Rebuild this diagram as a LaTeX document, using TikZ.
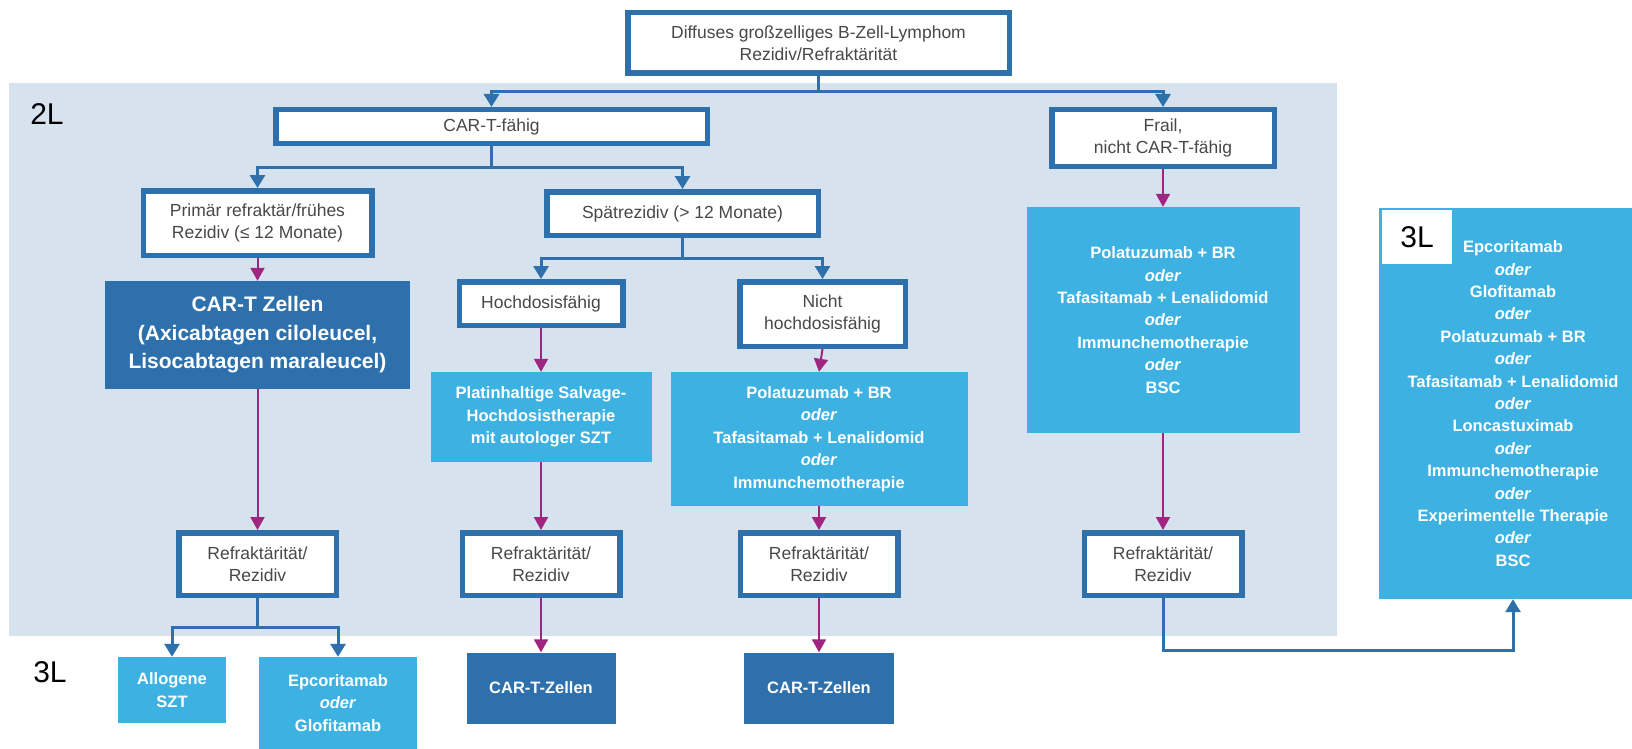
\documentclass[tikz,border=0pt]{standalone}
\usepackage{fontspec}
\setmainfont{Liberation Sans}
\usepackage{tikz}
\usetikzlibrary{arrows.meta,positioning}
\usepackage{xcolor}
\definecolor{lymblue}{RGB}{46,112,171}
\definecolor{lymlight}{RGB}{61,178,226}
\definecolor{lymbg}{RGB}{214,226,237}
\definecolor{lymmag}{RGB}{158,37,128}
\definecolor{lymgray}{RGB}{72,72,72}
\newcommand{\oder}{\textit{oder}}

\begin{document}
\begin{tikzpicture}[
    x=1pt, y=-1pt,
    frame/.style={draw=lymblue, line width=5.5pt, fill=white, text=lymgray, align=center, inner sep=0pt,
        font=\fontsize{17.5}{22.5}\selectfont},
    ther/.style={fill=#1, text=white, align=center, inner sep=0pt,
        font=\bfseries\fontsize{16.5}{22.4}\selectfont},
    big/.style={font=\fontsize{30}{32}\selectfont},
    barr/.style={draw=lymblue, line width=3pt, -{Triangle[length=13pt, width=15pt]}},
    bline/.style={draw=lymblue, line width=3pt},
    marr/.style={draw=lymmag, line width=2pt, -{Triangle[length=13pt, width=14pt]}}
]
\useasboundingbox (0,0) rectangle (1632,749);
\clip (0,0) rectangle (1632,749);

% 2L area
\fill[lymbg] (9,83) rectangle (1337,636);
\node[big] (l2) at (47,114) {2L};
\node[big] (l3) at (50,672) {3L};

% Start
\node[frame, minimum width=381.5pt, minimum height=60.5pt] (top) at (818.5,43) {Diffuses großzelliges B-Zell-Lymphom\\Rezidiv/Refraktärität};

% Level 1
\node[frame, minimum width=431.5pt, minimum height=33.5pt] (cart) at (491.5,126.5) {CAR-T-fähig};
\node[frame, minimum width=222.5pt, minimum height=56.5pt] (frail) at (1163,138) {Frail,\\nicht CAR-T-fähig};

% Level 2
\node[frame, minimum width=228.5pt, minimum height=64.5pt] (prim) at (257.5,223) {Primär refraktär/frühes\\Rezidiv (≤ 12 Monate)};
\node[frame, minimum width=271.5pt, minimum height=43.5pt] (spaet) at (682.5,213.5) {Spätrezidiv (> 12 Monate)};
\node[frame, minimum width=163.5pt, minimum height=43.5pt] (hoch) at (541,303.5) {Hochdosisfähig};
\node[frame, minimum width=165.5pt, minimum height=64.5pt] (nhoch) at (822.5,314) {Nicht\\hochdosisfähig};

% Therapies 2L
\node[ther=lymblue, minimum width=305pt, minimum height=108pt, font=\bfseries\fontsize{21}{28.5}\selectfont] (cartz) at (257.5,335) {CAR-T Zellen\\(Axicabtagen ciloleucel,\\Lisocabtagen maraleucel)};
\node[ther=lymlight, minimum width=221pt, minimum height=90pt] (platin) at (541,417) {Platinhaltige Salvage-\\Hochdosistherapie\\mit autologer SZT};
\node[ther=lymlight, minimum width=297pt, minimum height=134pt] (polam) at (819,439) {Polatuzumab + BR\\\oder\\Tafasitamab + Lenalidomid\\\oder\\Immunchemotherapie};
\node[ther=lymlight, minimum width=273pt, minimum height=226pt] (polar) at (1163,320) {Polatuzumab + BR\\\oder\\Tafasitamab + Lenalidomid\\\oder\\Immunchemotherapie\\\oder\\BSC};

% Refractory
\foreach \n/\x in {ref1/257.5, ref2/541, ref3/819, ref4/1163}
  \node[frame, minimum width=157.5pt, minimum height=62.5pt] (\n) at (\x,564) {Refraktärität/\\Rezidiv};

% Therapies 3L
\node[ther=lymlight, minimum width=108pt, minimum height=66pt] (allo) at (172,690) {Allogene\\SZT};
\node[ther=lymlight, minimum width=158pt, minimum height=92pt] (epglo) at (338,703) {Epcoritamab\\\oder\\Glofitamab};
\node[ther=lymblue, minimum width=149pt, minimum height=71pt] (cartz2) at (541,688) {CAR-T-Zellen};
\node[ther=lymblue, minimum width=150pt, minimum height=71pt] (cartz3) at (819,688) {CAR-T-Zellen};
\node[ther=lymlight, minimum width=268pt, minimum height=391pt] (third) at (1513,403.5) {Epcoritamab\\\oder\\Glofitamab\\\oder\\Polatuzumab + BR\\\oder\\Tafasitamab + Lenalidomid\\\oder\\Loncastuximab\\\oder\\Immunchemotherapie\\\oder\\Experimentelle Therapie\\\oder\\BSC};
\node[fill=white, big, minimum width=70pt, minimum height=54pt, inner sep=0pt] (tag3) at (1417,237) {3L};

% Branches
\draw[bline] (top.south) -- ++(0,16) coordinate (j1);
\draw[barr] (j1) -| (cart.north);
\draw[barr] (j1) -| (frail.north);
\draw[bline] (cart.south) -- ++(0,21) coordinate (j2);
\draw[barr] (j2) -| (prim.north);
\draw[barr] (j2) -| (spaet.north);
\draw[bline] (spaet.south) -- ++(0,20) coordinate (j3);
\draw[barr] (j3) -| (hoch.north);
\draw[barr] (j3) -| (nhoch.north);
\draw[bline] (ref1.south) -- ++(0,29) coordinate (j4);
\draw[barr] (j4) -| (allo.north);
\draw[barr] (j4) -| (epglo.north);
\draw[barr] (ref4.south) -- ++(0,52) -| (third.south);

% Sequence
\draw[marr] (prim) -- (cartz);
\draw[marr] (hoch) -- (platin);
\draw[marr] (nhoch.south) -- (polam.north);
\draw[marr] (frail) -- (polar);
\draw[marr] (cartz) -- (ref1);
\draw[marr] (platin) -- (ref2);
\draw[marr] (polam) -- (ref3);
\draw[marr] (polar) -- (ref4);
\draw[marr] (ref2) -- (cartz2);
\draw[marr] (ref3) -- (cartz3);
\end{tikzpicture}
\end{document}
